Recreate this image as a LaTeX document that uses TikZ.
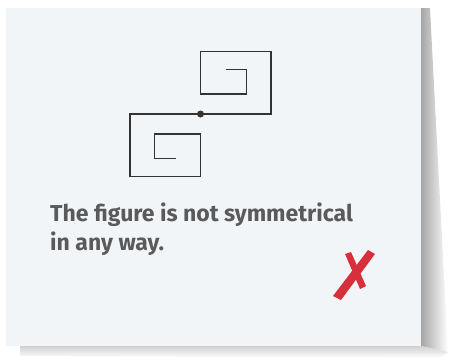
\documentclass[tikz,border=0pt]{standalone}
\usepackage{fontspec}
\setmainfont{Fira Sans}
\definecolor{cardbg}{HTML}{F2F5F8}
\definecolor{inkgray}{HTML}{333333}
\definecolor{notegray}{HTML}{5A5A5A}
\definecolor{crossred}{HTML}{D6303C}
\tikzset{
  spiral/.style={draw=inkgray, line width=1.4pt, line join=miter},
  note/.style={text=notegray, align=left, inner sep=0pt, font=\fontsize{23}{28.5}\selectfont\bfseries},
}
\begin{document}
\begin{tikzpicture}[x=1pt,y=-1pt]
    \useasboundingbox (0,0) rectangle (450,360);
    % Shadow of the card
    \shade[left color=black!35, right color=white] (421,8) -- (430,8) -- (448,352) -- (421,346) -- cycle;
    \shade[top color=black!18, bottom color=white] (20,346) -- (421,346) -- (448,352) -- (440,358) -- (20,356) -- cycle;
    % Card
    \fill[cardbg] (6,8) rectangle (421,346);
    
    % Centre dot
    \node[circle, fill=inkgray, inner sep=0pt, minimum size=7pt] (centre) at (200.5,114) {};
    
    % Two spirals
    \draw[spiral] (centre.center) -- ++(70.5,0) -- ++(0,-62.5) -- ++(-70.5,0) -- ++(0,42.5) -- ++(46,0) -- ++(0,-24.5) -- ++(-21,0);
    \draw[spiral] (centre.center) -- ++(-70.5,0) -- ++(0,62.5) -- ++(70.5,0) -- ++(0,-42.5) -- ++(-46,0) -- ++(0,24.5) -- ++(21,0);
    
    % Caption
    \node[note, anchor=north west] (caption) at (50,203) {The figure is not symmetrical\\in any way.};
    
    % Red cross
    \fill[crossred] (333,296) -- (368,250) -- (375,254) -- (341,300) -- cycle;
    \fill[crossred] (345,254) -- (351,252) -- (366,286) -- (360,289) -- cycle;
\end{tikzpicture}
\end{document}
